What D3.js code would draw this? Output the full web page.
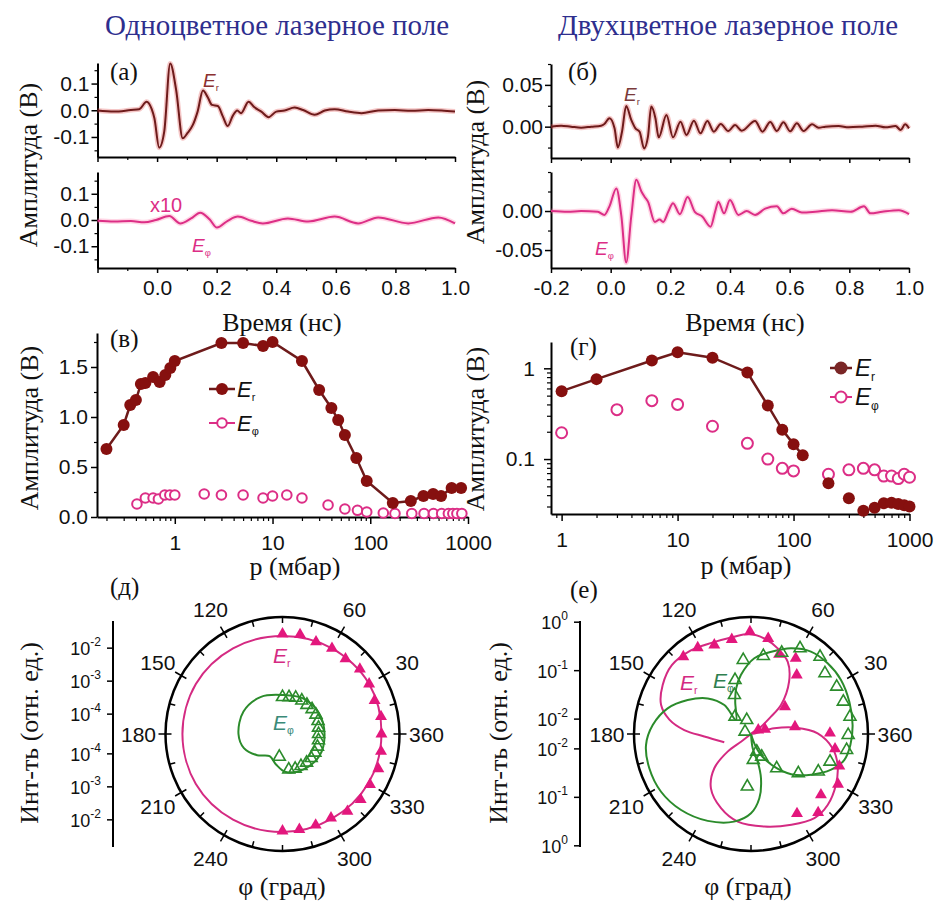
<!DOCTYPE html>
<html>
<head>
<meta charset="utf-8">
<script src="https://cdnjs.cloudflare.com/ajax/libs/d3/7.8.5/d3.min.js"></script>
<style>
  body { margin: 0; background: #fff; }
</style>
</head>
<body>
<svg id="fig" width="936" height="902"></svg>
<script>
// ---- waveforms (а), (б): time in ns, amplitude in V ----
const timeA_Er = [-0.2,-0.144,-0.088,-0.06,-0.035,-0.018,-0.009,0.007,0.024,0.044,0.064,0.086,0.103,0.12,0.136,0.154,0.17,0.184,0.204,0.221,0.237,0.254,0.269,0.282,0.307,0.327,0.35,0.374,0.40,0.428,0.462,0.49,0.529,0.563,0.596,0.641,0.686,0.742,0.798,0.854,0.91,0.955,1.0]
const ampA_Er = [-0.001,-0.005,0.001,0.004,0.032,0.004,-0.03,-0.14,-0.08,0.175,0.076,-0.105,-0.084,-0.055,-0.005,0.074,0.049,0.02,0.016,-0.024,-0.059,-0.021,-0.001,-0.011,0.032,0.011,-0.005,-0.026,-0.005,-0.001,0.01,0.001,-0.017,-0.001,0.004,-0.005,-0.011,-0.001,0.001,-0.002,0.001,-0.001,-0.005]
const timeA_Ephi = [-0.2,-0.144,-0.088,-0.043,-0.004,0.041,0.078,0.114,0.145,0.176,0.201,0.237,0.271,0.316,0.355,0.439,0.507,0.596,0.675,0.742,0.843,0.944,1.0]
const ampA_Ephi = [-0.003,-0.006,-0.004,-0.009,0,0.015,-0.013,0.006,0.028,0.003,-0.029,-0.003,0.013,-0.003,-0.013,0.006,-0.006,0.013,-0.013,0.01,-0.013,0.01,-0.013]

const timeB_Er = [-0.2,-0.166,-0.133,-0.099,-0.065,-0.032,-0.021,-0.004,0.013,0.024,0.038,0.052,0.069,0.083,0.097,0.112,0.125,0.136,0.15,0.161,0.187,0.209,0.234,0.254,0.279,0.301,0.324,0.346,0.369,0.394,0.417,0.439,0.484,0.509,0.535,0.557,0.579,0.602,0.624,0.647,0.675,0.697,0.72,0.764,0.798,0.843,0.888,0.921,0.955,0.972,0.987,1.0]
const ampB_Er = [0,0.0012,0,-0.0012,0,0.0012,0.0032,0.01,-0.002,-0.0248,-0.006,0.0248,0.008,-0.002,-0.006,-0.026,-0.012,0.024,0.01,-0.0128,0.014,-0.0128,0.006,-0.01,0.0072,-0.008,0.0068,-0.006,0.0032,-0.0052,0.002,-0.0048,0.0068,-0.006,0.0056,-0.0052,0.0052,-0.0056,0.004,-0.0052,0.0028,-0.0012,0,0.0008,-0.0008,0,0.0012,-0.0008,0.0008,-0.004,0.0028,-0.002]
const timeB_Ephi = [-0.2,-0.144,-0.099,-0.043,-0.021,-0.004,0.019,0.036,0.052,0.069,0.086,0.103,0.114,0.125,0.148,0.164,0.176,0.193,0.209,0.232,0.258,0.282,0.307,0.335,0.35,0.361,0.38,0.40,0.428,0.456,0.484,0.518,0.557,0.579,0.607,0.641,0.686,0.742,0.804,0.849,0.871,0.91,0.966,1.0]
const ampB_Ephi = [0,-0.001,0,-0.001,-0.005,0.006,0.029,-0.007,-0.066,-0.007,0.040,0.025,0.018,0.012,-0.014,-0.011,-0.014,-0.001,0.010,-0.004,0.018,-0.001,-0.007,-0.020,-0.001,0.012,-0.003,0.014,-0.005,0.000,-0.005,0.003,0.006,-0.003,0.003,-0.002,-0.001,0.001,-0.001,0.006,-0.003,-0.001,0.001,-0.004]

// ---- pressure dependence (в), (г): p in mbar, amplitude in V ----
const pressC_Er = [0.2,0.3,0.35,0.4,0.45,0.5,0.6,0.7,0.8,0.9,1,3,5,8,10,20,30,40,47,55,72,92,170,260,350,440,530,680,850]
const ampC_Er = [0.68,0.92,1.12,1.17,1.33,1.34,1.40,1.35,1.42,1.49,1.56,1.74,1.74,1.71,1.75,1.56,1.27,1.09,0.97,0.82,0.59,0.36,0.14,0.16,0.21,0.23,0.21,0.29,0.29]
const pressC_Ephi = [0.41,0.5,0.6,0.68,0.79,0.89,1.0,2,3,5,8,10,14,20,37,55,74,92,136,179,266,355,443,538,630,700,770,865]
const ampC_Ephi = [0.13,0.19,0.19,0.18,0.22,0.22,0.22,0.23,0.22,0.22,0.19,0.21,0.22,0.19,0.12,0.08,0.067,0.05,0.04,0.035,0.035,0.035,0.035,0.035,0.035,0.035,0.035,0.035]

const pressD_Er = [1,2,6,10,20,40,60,80,100,120,200,300,400,500,600,700,800,900,1000]
const ampD_Er = [0.56,0.76,1.22,1.50,1.31,0.90,0.39,0.21,0.146,0.11,0.054,0.037,0.027,0.029,0.0325,0.033,0.032,0.031,0.030]
const pressD_Ephi = [1,3,6,10,20,40,60,80,100,200,300,400,500,600,700,800,900,1000]
const ampD_Ephi = [0.195,0.35,0.44,0.40,0.23,0.149,0.10,0.079,0.074,0.068,0.076,0.079,0.076,0.065,0.065,0.061,0.068,0.063]

// ---- polar (д): angle in degrees, intensity in rel. units ----
const angE_Er = [-90,-80,-70,-60,-50,-40,-30,-20,-10,0,10,20,30,40,50,60,70,80,90]
const intE_Er = [0.0218,0.0218,0.0218,0.0218,0.0288,0.0309,0.0288,0.0309,0.0269,0.0250,0.0269,0.0234,0.0269,0.0288,0.0234,0.0250,0.0234,0.0288,0.0269]
const angE_ErFit = [0,30,60,90,120,150,180,210,240,270,300,330]
const intE_ErFit = [0.025,0.027,0.025,0.0234,0.025,0.027,0.027,0.027,0.025,0.0234,0.0234,0.025]
const angE_Ephi = [262,-80,-70,-60,-50,-40,-30,-20,-10,0,10,20,30,40,50,60,70,80,90]
const intE_Ephi = [1.25e-4,3.1e-4,3.3e-4,3.3e-4,3.4e-4,3.4e-4,3.4e-4,3.35e-4,3.2e-4,3.1e-4,3.2e-4,3.5e-4,3.7e-4,3.7e-4,3.55e-4,3.7e-4,3.7e-4,3.4e-4,3.3e-4]
const angE_EphiFit = [0,30,60,90,120,150,180,200,220,240,258,275,300,330]
const intE_EphiFit = [4.7e-4,4.7e-4,4.4e-4,3.8e-4,5.0e-4,5.8e-4,5.4e-4,4.4e-4,2.5e-4,1.5e-4,2.2e-4,3.6e-4,4.4e-4,5.0e-4]

// ---- polar (е) ----
const angF_Er = [131.2,121.7,112.4,101.5,90.6,79.8,70.6,59.4,52.2,38.8,28.7,18.6,9.4,0.7,-10,-20,-30,-41,-49.5,-60]
const intF_Er = [0.651,0.609,0.478,0.482,0.636,0.497,0.273,0.321,0.171,0.0391,0.0073,0.00996,0.041,0.210,0.284,0.429,0.584,0.403,0.670,0.390]
const angF_ErFit = [197,183,176.6,170,162,151,139,126,113,101.6,91,82,72.7,63,54,44,41,36,25,13.7,8,0.6,-10,-19.7,-31,-42.8,-53,-66,-81.8,-98.6,-112,-126.4,-137,-143,-142.4,-150]
const intF_ErFit = [0.0186,0.0455,0.118,0.253,0.441,0.598,0.72,0.66,0.55,0.53,0.57,0.482,0.350,0.231,0.107,0.0357,0.0173,0.0089,0.00493,0.0154,0.0426,0.117,0.254,0.390,0.544,0.706,0.737,0.554,0.420,0.333,0.221,0.122,0.0535,0.0198,0.00897,0.00493]
const angF_Ephi = [159,107,132.8,113,106.5,96,81,69.3,60.2,48.2,39.4,28.9,19.3,9.9,-0.6,-9.5,-19.3,-29.2,-39.7,-53.2,-64.8,-72,-85,266]
const intF_Ephi = [0.00668,0.00987,0.0151,0.0369,0.0715,0.169,0.210,0.306,0.536,0.676,0.465,0.516,0.514,0.584,0.499,0.494,0.263,0.192,0.0916,0.0378,0.0162,0.0119,0.0170,0.0603]
const angF_EphiFit = [-78,-70,-64.5,-54.5,-45,-34,-24,-15.6,-6.3,5,18,31,42.7,54,65,76,87.5,99.6,108,116,137,132.6,140.5,151.8,162.9,174.8,186,198.6,212.7,227.4,243.5,259,270,277.4,282.7,283.6,276.8,270]
const intF_EphiFit = [0.00493,0.0086,0.0149,0.033,0.0733,0.156,0.318,0.490,0.570,0.627,0.673,0.723,0.700,0.624,0.441,0.276,0.181,0.0853,0.0482,0.0273,0.0131,0.032,0.0705,0.150,0.311,0.536,0.744,0.807,0.792,0.667,0.497,0.343,0.213,0.107,0.0426,0.0191,0.00977,0.00493]

const angleLabels = [30,60,120,150,180,210,240,300,330,360]

const sans = '"Liberation Sans", Arial, sans-serif'
const serif = '"Liberation Serif", "Times New Roman", serif'
const darkRed = '#6e1b1b'
const dotRed = '#86100f'
const pink = '#dc2e86'
const magenta = '#e3177d'
const green = '#2b8b2b'

const svg = d3.select('#fig')

function axis(gen, tx, ty, fs) {
  const a = svg.append('g').attr('transform', `translate(${tx},${ty})`).call(gen)
  a.attr('font-family', sans).attr('font-size', fs || 21)
  a.select('.domain').attr('stroke-width', 2)
  a.selectAll('.tick line').attr('stroke-width', 1.5)
  a.selectAll('.tick text').attr('fill', '#111')
  return a
}
function minorAxis(gen, tx, ty) {
  const a = svg.append('g').attr('transform', `translate(${tx},${ty})`).call(gen.tickFormat(''))
  a.select('.domain').remove()
  a.selectAll('.tick line').attr('stroke-width', 1.2)
}
function logMinors(lo, hi) {
  const out = []
  for (let dec = 0.01; dec < hi; dec *= 10)
    for (let k = 2; k <= 9; k++) { const v = k * dec; if (v > lo && v < hi) out.push(v) }
  return out
}
function txt(x, y, s, o) {
  o = o || {}
  return svg.append('text').attr('x', x).attr('y', y).text(s)
    .attr('font-family', o.family || serif).attr('font-size', o.size || 26)
    .attr('fill', o.fill || '#111').attr('text-anchor', o.anchor || 'start')
}
function vtxt(x, y, s, size) {
  svg.append('text').attr('transform', `translate(${x},${y}) rotate(-90)`)
    .attr('text-anchor', 'middle').attr('font-family', serif).attr('font-size', size || 26)
    .attr('fill', '#111').text(s)
}
function eLabel(x, y, sub, color, size) {
  const t = svg.append('text').attr('x', x).attr('y', y).attr('fill', color)
    .attr('font-family', sans).attr('font-size', size).attr('font-style', 'italic')
  t.append('tspan').text('E')
  t.append('tspan').attr('font-size', size * 0.5).attr('font-style', 'normal')
    .attr('dy', size * 0.2).text(sub)
}
function wave(x, y, t, v, col, halo) {
  const pts = d3.zip(t, v)
  const ln = d3.line().x(d => x(d[0])).y(d => y(d[1])).curve(d3.curveMonotoneX)
  svg.append('path').datum(pts).attr('d', ln).attr('fill', 'none')
    .attr('stroke', halo).attr('stroke-width', 5).attr('stroke-opacity', 0.3)
  svg.append('path').datum(pts).attr('d', ln).attr('fill', 'none')
    .attr('stroke', col).attr('stroke-width', 2).attr('stroke-linejoin', 'round')
}

// titles
txt(277, 35, 'Одноцветное лазерное поле', {size: 29, fill: '#2e2e8e', anchor: 'middle'})
txt(728, 35, 'Двухцветное лазерное поле', {size: 29, fill: '#2e2e8e', anchor: 'middle'})

//---------------- (а) ----------------
const xA = d3.scaleLinear().domain([-0.2, 1.0]).range([97.5, 455])
const yA1 = d3.scaleLinear().domain([-0.175, 0.177]).range([157, 63])
const yA2 = d3.scaleLinear().domain([-0.183, 0.183]).range([268, 172])
const f1 = d => d.toFixed(1)

;[yA1, yA2].forEach(y => {
  axis(d3.axisLeft(y).tickValues([-0.1, 0, 0.1]).tickFormat(f1).tickSize(6).tickSizeOuter(0).tickPadding(2), 97.5, 0)
  minorAxis(d3.axisLeft(y).tickValues([-0.15, -0.05, 0.05, 0.15]).tickSize(3), 97.5, 0)
})
axis(d3.axisBottom(xA).tickValues([-0.2, 0, 0.2, 0.4, 0.6, 0.8, 1.0]).tickFormat('').tickSize(5).tickSizeOuter(0), 0, 157)
minorAxis(d3.axisBottom(xA).tickValues([-0.1, 0.1, 0.3, 0.5, 0.7, 0.9]).tickSize(3), 0, 157)
axis(d3.axisBottom(xA).tickValues([-0.2, 0, 0.2, 0.4, 0.6, 0.8, 1.0])
  .tickFormat(d => d < -0.1 ? '' : f1(d)).tickSize(5).tickSizeOuter(0).tickPadding(7), 0, 268)
minorAxis(d3.axisBottom(xA).tickValues([-0.1, 0.1, 0.3, 0.5, 0.7, 0.9]).tickSize(3), 0, 268)

wave(xA, yA1, timeA_Er, ampA_Er, darkRed, '#d44')
wave(xA, yA2, timeA_Ephi, ampA_Ephi, pink, '#f7a')

txt(110, 80, '(а)', {size: 25})
eLabel(203, 87, 'r', '#8b3030', 19)
txt(150, 212, 'x10', {family: sans, size: 20, fill: pink})
eLabel(192, 252, 'φ', pink, 19)
txt(282, 331, 'Время (нс)', {anchor: 'middle'})
vtxt(37, 165, 'Амплитуда (В)')

//---------------- (б) ----------------
const xB = d3.scaleLinear().domain([-0.2, 1.0]).range([551, 909])
const yB1 = d3.scaleLinear().domain([-0.0375, 0.075]).range([158, 64])
const yB2 = d3.scaleLinear().domain([-0.073, 0.05]).range([268, 172])
const f2 = d => d.toFixed(2)

axis(d3.axisLeft(yB1).tickValues([0, 0.05]).tickFormat(f2).tickSize(6).tickSizeOuter(0).tickPadding(2), 551, 0)
minorAxis(d3.axisLeft(yB1).tickValues([-0.025, 0.025, 0.075]).tickSize(3), 551, 0)
axis(d3.axisLeft(yB2).tickValues([-0.05, 0]).tickFormat(f2).tickSize(6).tickSizeOuter(0).tickPadding(2), 551, 0)
minorAxis(d3.axisLeft(yB2).tickValues([-0.025, 0.025, 0.05]).tickSize(3), 551, 0)
axis(d3.axisBottom(xB).tickValues([-0.2, 0, 0.2, 0.4, 0.6, 0.8, 1.0]).tickFormat('').tickSize(5).tickSizeOuter(0), 0, 158)
minorAxis(d3.axisBottom(xB).tickValues([-0.1, 0.1, 0.3, 0.5, 0.7, 0.9]).tickSize(3), 0, 158)
axis(d3.axisBottom(xB).tickValues([-0.2, 0, 0.2, 0.4, 0.6, 0.8, 1.0])
  .tickFormat(f1).tickSize(5).tickSizeOuter(0).tickPadding(7), 0, 268)
minorAxis(d3.axisBottom(xB).tickValues([-0.1, 0.1, 0.3, 0.5, 0.7, 0.9]).tickSize(3), 0, 268)

wave(xB, yB1, timeB_Er, ampB_Er, darkRed, '#d44')
wave(xB, yB2, timeB_Ephi, ampB_Ephi, pink, '#f7a')

txt(568, 80, '(б)', {size: 25})
eLabel(624, 101, 'r', '#7a3a3a', 19)
eLabel(595, 255, 'φ', pink, 19)
txt(745, 331, 'Время (нс)', {anchor: 'middle'})
vtxt(484, 162, 'Амплитуда (В)')

//---------------- (в) ----------------
const xC = d3.scaleLog().domain([0.16, 1000]).range([97, 468])
const yC = d3.scaleLinear().domain([0, 1.84]).range([517, 333])

axis(d3.axisLeft(yC).tickValues([0, 0.5, 1.0, 1.5]).tickFormat(f1).tickSize(6).tickSizeOuter(0).tickPadding(3), 97, 0)
minorAxis(d3.axisLeft(yC).tickValues([0.25, 0.75, 1.25, 1.75]).tickSize(3), 97, 0)
axis(d3.axisBottom(xC).tickValues([1, 10, 100, 1000]).tickFormat(d3.format('d')).tickSize(7).tickSizeOuter(0).tickPadding(11), 0, 517)
minorAxis(d3.axisBottom(xC).tickValues(logMinors(0.16, 1000)).tickSize(4), 0, 517)

svg.append('path').datum(d3.zip(pressC_Er, ampC_Er))
  .attr('d', d3.line().x(d => xC(d[0])).y(d => yC(d[1])))
  .attr('fill', 'none').attr('stroke', darkRed).attr('stroke-width', 2.5)
svg.append('g').selectAll('circle').data(d3.zip(pressC_Ephi, ampC_Ephi)).enter().append('circle')
  .attr('cx', d => xC(d[0])).attr('cy', d => yC(d[1])).attr('r', 4.8)
  .attr('fill', 'white').attr('stroke', pink).attr('stroke-width', 2)
svg.append('g').selectAll('circle').data(d3.zip(pressC_Er, ampC_Er)).enter().append('circle')
  .attr('cx', d => xC(d[0])).attr('cy', d => yC(d[1])).attr('r', 6).attr('fill', dotRed)

// legend (в)
const legC = svg.append('g')
legC.append('line').attr('x1', 209).attr('x2', 235).attr('y1', 389).attr('y2', 389).attr('stroke', darkRed).attr('stroke-width', 2.5)
legC.append('circle').attr('cx', 222).attr('cy', 389).attr('r', 6).attr('fill', dotRed)
legC.append('line').attr('x1', 209).attr('x2', 235).attr('y1', 423).attr('y2', 423).attr('stroke', pink).attr('stroke-width', 2)
legC.append('circle').attr('cx', 222).attr('cy', 423).attr('r', 4.8).attr('fill', 'white').attr('stroke', pink).attr('stroke-width', 2)
eLabel(237, 397, 'r', '#111', 22)
eLabel(237, 431, 'φ', '#111', 22)

txt(110, 347, '(в)', {size: 25})
txt(295, 575, 'р (мбар)', {anchor: 'middle'})
vtxt(38, 428, 'Амплитуда (В)')

//---------------- (г) ----------------
const xD = d3.scaleLog().domain([0.81, 1000]).range([551, 909.5])
const yD = d3.scaleLog().domain([0.0248, 1.95]).range([514, 342])

axis(d3.axisLeft(yD).tickValues([0.1, 1]).tickFormat(d => d === 1 ? '1' : '0.1').tickSize(7).tickSizeOuter(0).tickPadding(9), 551, 0)
minorAxis(d3.axisLeft(yD).tickValues(logMinors(0.0248, 1.95)).tickSize(4), 551, 0)
axis(d3.axisBottom(xD).tickValues([1, 10, 100, 1000]).tickFormat(d3.format('d')).tickSize(7).tickSizeOuter(0).tickPadding(11), 0, 514)
minorAxis(d3.axisBottom(xD).tickValues(logMinors(0.81, 1000)).tickSize(4), 0, 514)

svg.append('path').datum(d3.zip(pressD_Er, ampD_Er).filter(d => d[0] <= 120))
  .attr('d', d3.line().x(d => xD(d[0])).y(d => yD(d[1])))
  .attr('fill', 'none').attr('stroke', darkRed).attr('stroke-width', 2.5)
svg.append('g').selectAll('circle').data(d3.zip(pressD_Ephi, ampD_Ephi)).enter().append('circle')
  .attr('cx', d => xD(d[0])).attr('cy', d => yD(d[1])).attr('r', 5.5)
  .attr('fill', 'white').attr('stroke', pink).attr('stroke-width', 2)
svg.append('g').selectAll('circle').data(d3.zip(pressD_Er, ampD_Er)).enter().append('circle')
  .attr('cx', d => xD(d[0])).attr('cy', d => yD(d[1])).attr('r', 6).attr('fill', dotRed)

const legD = svg.append('g')
legD.append('line').attr('x1', 830).attr('x2', 852).attr('y1', 368).attr('y2', 368).attr('stroke', darkRed).attr('stroke-width', 2.5)
legD.append('circle').attr('cx', 841).attr('cy', 368).attr('r', 6.5).attr('fill', '#7a2626')
legD.append('line').attr('x1', 830).attr('x2', 852).attr('y1', 397).attr('y2', 397).attr('stroke', pink).attr('stroke-width', 2)
legD.append('circle').attr('cx', 841).attr('cy', 397).attr('r', 5.5).attr('fill', 'white').attr('stroke', pink).attr('stroke-width', 2)
eLabel(855, 376, 'r', '#111', 24)
eLabel(855, 405, 'φ', '#111', 24)

txt(570, 355, '(г)', {size: 25})
txt(746, 574, 'р (мбар)', {anchor: 'middle'})
vtxt(484, 429, 'Амплитуда (В)')

//---------------- polar plots ----------------
const R = 117
function polarFrame(cx, cy) {
  const g = svg.append('g').attr('transform', `translate(${cx},${cy})`)
  g.append('circle').attr('r', R).attr('fill', 'none').attr('stroke', '#000').attr('stroke-width', 2.5)
  const rad = a => a * Math.PI / 180
  g.selectAll('.tin').data(d3.range(0, 360, 15)).enter().append('line')
    .attr('x1', a => (R - 6) * Math.cos(rad(a))).attr('y1', a => -(R - 6) * Math.sin(rad(a)))
    .attr('x2', a => R * Math.cos(rad(a))).attr('y2', a => -R * Math.sin(rad(a)))
    .attr('stroke', '#000').attr('stroke-width', 1.5)
  g.selectAll('.tout').data(angleLabels).enter().append('line')
    .attr('x1', a => R * Math.cos(rad(a))).attr('y1', a => -R * Math.sin(rad(a)))
    .attr('x2', a => (R + 7) * Math.cos(rad(a))).attr('y2', a => -(R + 7) * Math.sin(rad(a)))
    .attr('stroke', '#000').attr('stroke-width', 1.5)
  g.selectAll('.lab').data(angleLabels).enter().append('text')
    .attr('x', a => (R + 27) * Math.cos(rad(a))).attr('y', a => -(R + 27) * Math.sin(rad(a)))
    .attr('dy', '0.36em').attr('text-anchor', 'middle')
    .attr('font-family', sans).attr('font-size', 21).attr('fill', '#111').text(a => a)
  return g
}
function radialAxis(cx, cy, ax, rS, vals, exps) {
  const g = svg.append('g')
  g.append('line').attr('x1', ax).attr('x2', ax).attr('y1', cy - 113).attr('y2', cy + 113)
    .attr('stroke', '#000').attr('stroke-width', 2)
  vals.forEach((v, i) => {
    [-1, 1].forEach(s => {
      const y = cy + s * rS(v)
      g.append('line').attr('x1', ax - 6).attr('x2', ax).attr('y1', y).attr('y2', y)
        .attr('stroke', '#000').attr('stroke-width', 1.5)
      const t = g.append('text').attr('x', ax - 12).attr('y', y + 7).attr('text-anchor', 'end')
        .attr('font-family', sans).attr('font-size', 18).attr('fill', '#111')
      t.append('tspan').text('10')
      t.append('tspan').attr('font-size', 12).attr('dy', -9).text(exps[i])
    })
  })
}
function radialLine(rS, closed) {
  return d3.lineRadial().angle(d => (90 - d[0]) * Math.PI / 180).radius(d => rS(d[1]))
    .curve(closed ? d3.curveCatmullRomClosed.alpha(0.5) : d3.curveCatmullRom.alpha(0.5))
}
const tri = d3.symbol().type(d3.symbolTriangle).size(62)
function triangles(g, rS, ang, val, fill, stroke) {
  g.append('g').selectAll('path').data(d3.zip(ang, val)).enter().append('path')
    .attr('d', tri)
    .attr('transform', d => {
      const a = d[0] * Math.PI / 180, r = rS(d[1])
      return `translate(${r * Math.cos(a)},${-r * Math.sin(a)})`
    })
    .attr('fill', fill).attr('stroke', stroke).attr('stroke-width', 1.6)
}

// (д)
const cE = [282.5, 734]
const rE = d3.scaleLog().domain([2.5e-5, 0.088]).range([0, R])
const gE = polarFrame(cE[0], cE[1])
gE.append('path').datum(d3.zip(angE_ErFit, intE_ErFit)).attr('d', radialLine(rE, true))
  .attr('fill', 'none').attr('stroke', '#d42a82').attr('stroke-width', 2)
gE.append('path').datum(d3.zip(angE_EphiFit, intE_EphiFit)).attr('d', radialLine(rE, true))
  .attr('fill', 'none').attr('stroke', green).attr('stroke-width', 2)
triangles(gE, rE, angE_Er, intE_Er, magenta, 'none')
triangles(gE, rE, angE_Ephi, intE_Ephi, 'none', green)
radialAxis(cE[0], cE[1], 113, rE, [1e-2, 1e-3, 1e-4], ['-2', '-3', '-4'])
eLabel(273, 663, 'r', '#d42a82', 21)
eLabel(273, 730, 'φ', '#3a8a78', 21)
txt(110, 595, '(д)', {size: 25})
txt(282, 895, 'φ (град)', {anchor: 'middle'})
vtxt(38, 733, 'Инт-ть (отн. ед.)')

// (е)
const cF = [751, 734]
const rF = d3.scaleLog().domain([0.00493, 1.28]).range([0, R])
const gF = polarFrame(cF[0], cF[1])
gF.append('path').datum(d3.zip(angF_ErFit, intF_ErFit)).attr('d', radialLine(rF, false))
  .attr('fill', 'none').attr('stroke', '#d42a82').attr('stroke-width', 2)
gF.append('path').datum(d3.zip(angF_EphiFit, intF_EphiFit)).attr('d', radialLine(rF, false))
  .attr('fill', 'none').attr('stroke', green).attr('stroke-width', 2)
triangles(gF, rF, angF_Er, intF_Er, magenta, 'none')
triangles(gF, rF, angF_Ephi, intF_Ephi, 'none', green)
radialAxis(cF[0], cF[1], 580, rF, [1, 0.1, 0.01], ['0', '-1', '-2'])
eLabel(680, 690, 'r', '#d42a82', 21)
eLabel(713, 688, 'φ', '#2f7f4f', 21)
txt(570, 598, '(е)', {size: 25})
txt(748, 895, 'φ (град)', {anchor: 'middle'})
vtxt(507, 733, 'Инт-ть (отн. ед.)')
</script>
</body>
</html>
